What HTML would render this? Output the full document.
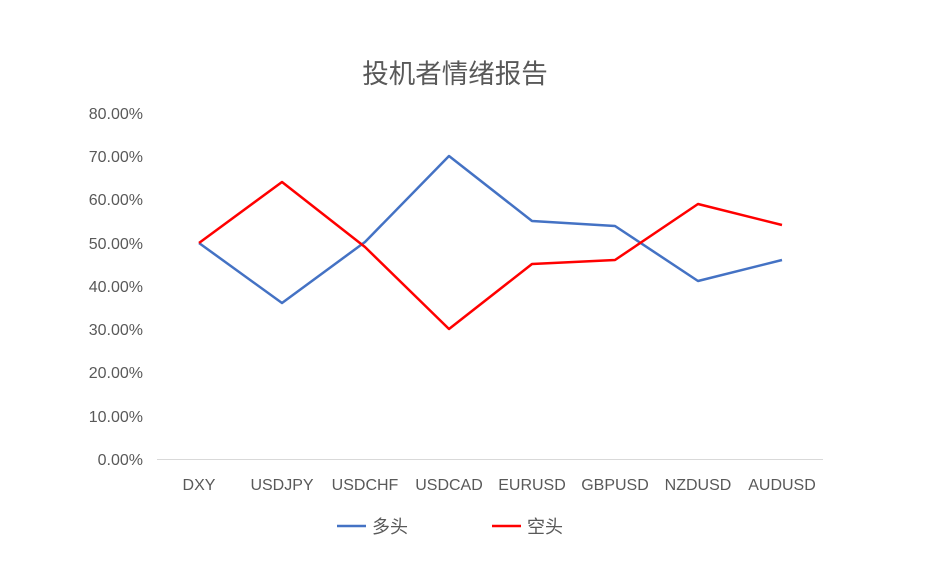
<!DOCTYPE html>
<html><head><meta charset="utf-8"><style>
body{margin:0;background:#fff;}
svg text{font-family:"Liberation Sans","Noto Sans CJK SC",sans-serif;fill:#595959;}
</style></head><body>
<svg width="930" height="561" xmlns="http://www.w3.org/2000/svg">
<text x="455" y="83" font-size="26.5" text-anchor="middle">投机者情绪报告</text>
<g font-size="16" text-anchor="end">
<text x="143" y="465">0.00%</text>
<text x="143" y="422">10.00%</text>
<text x="143" y="378">20.00%</text>
<text x="143" y="335">30.00%</text>
<text x="143" y="292">40.00%</text>
<text x="143" y="249">50.00%</text>
<text x="143" y="205">60.00%</text>
<text x="143" y="162">70.00%</text>
<text x="143" y="119">80.00%</text>
</g>
<line x1="157" y1="459.5" x2="823" y2="459.5" stroke="#d9d9d9" stroke-width="1"/>
<g font-size="16" text-anchor="middle">
<text x="199" y="490">DXY</text>
<text x="282" y="490">USDJPY</text>
<text x="365" y="490">USDCHF</text>
<text x="449" y="490">USDCAD</text>
<text x="532" y="490">EURUSD</text>
<text x="615" y="490">GBPUSD</text>
<text x="698" y="490">NZDUSD</text>
<text x="782" y="490">AUDUSD</text>
</g>
<polyline fill="none" stroke="#4472c4" stroke-width="2.5" stroke-linejoin="round" points="199,243 282,303 365,242 449,156 532,221 615,226 698,281 782,260"/>
<polyline fill="none" stroke="#ff0000" stroke-width="2.5" stroke-linejoin="round" points="199,243 282,182 365,247 449,329 532,264 615,260 698,204 782,225"/>
<line x1="337" y1="526" x2="366" y2="526" stroke="#4472c4" stroke-width="2.5"/>
<text x="372" y="533" font-size="18">多头</text>
<line x1="492" y1="526" x2="521" y2="526" stroke="#ff0000" stroke-width="2.5"/>
<text x="527" y="533" font-size="18">空头</text>
</svg>
</body></html>
